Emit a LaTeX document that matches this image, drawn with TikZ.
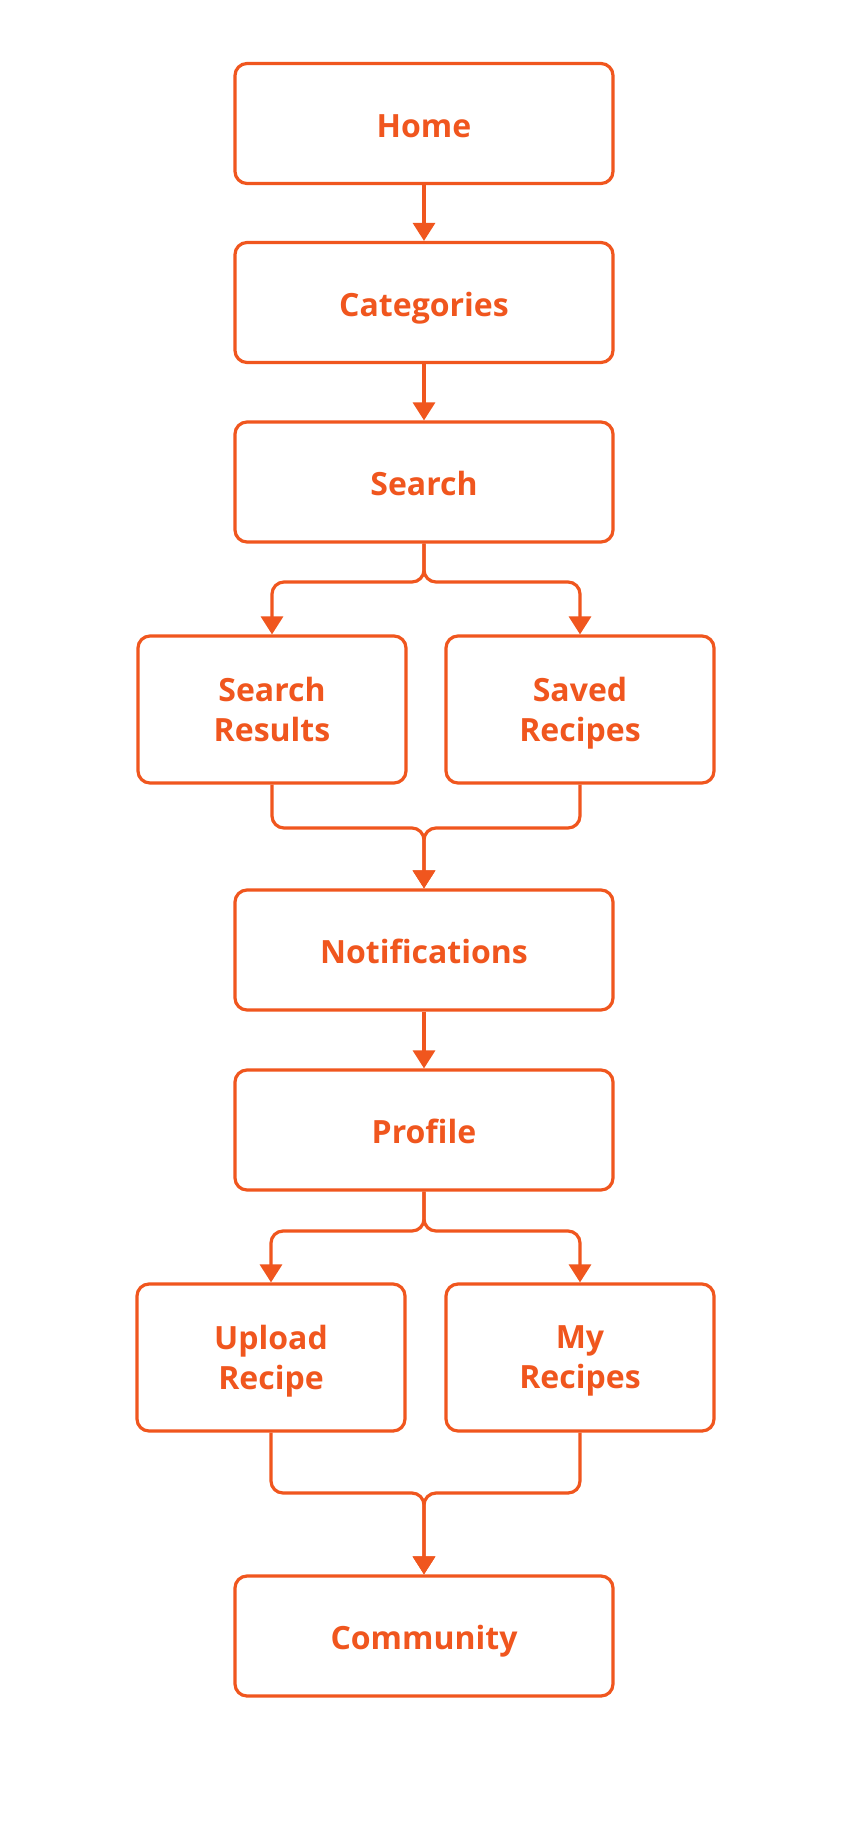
\documentclass[tikz,border=0pt]{standalone}
\usepackage{fontspec}
\setmainfont{Open Sans}
\usetikzlibrary{arrows.meta}
\definecolor{flow}{RGB}{240,86,30}
\begin{document}
\begin{tikzpicture}[x=1pt,y=-1pt,
  wide/.style={draw=flow,line width=3.2pt,rounded corners=12pt,minimum width=378pt,minimum height=120pt,text=flow,font=\fontsize{32}{40}\selectfont\bfseries,align=center,inner sep=0pt,text height=27pt,text depth=0pt},
  small/.style={draw=flow,line width=3.2pt,rounded corners=12pt,minimum width=268pt,minimum height=147pt,text=flow,font=\fontsize{32}{40}\selectfont\bfseries,align=center,inner sep=0pt},
  conn/.style={draw=flow,line width=3.2pt,rounded corners=12pt,-{Triangle[width=22pt,length=18pt]}}]
\fill[white] (0,0) rectangle (862,1824);
\useasboundingbox (0,0) rectangle (862,1824);
\node[wide] (home) at (424,123.5) {Home};
\node[wide] (cat) at (424,302.5) {Categories};
\node[wide] (search) at (424,482) {Search};
\node[small] (res) at (272,709.5) {Search\\Results};
\node[small] (saved) at (580,709.5) {Saved\\\smash{Recipes}};
\node[wide] (notif) at (424,950) {Notifications};
\node[wide] (prof) at (424,1130) {Profile};
\node[small] (up) at (271,1357.5) {Upload\\\smash{Recipe}};
\node[small] (my) at (580,1357.5) {My\\\smash{Recipes}};
\node[wide] (comm) at (424,1636) {Community};
\coordinate (s1) at (424,582);
\coordinate (m1) at (424,828);
\coordinate (s2) at (424,1231);
\coordinate (m2) at (424,1493);
\draw[conn] (home) -- (cat);
\draw[conn] (cat) -- (search);
\draw[conn] (search.south) -- (s1) -| (res.north);
\draw[conn] (search.south) -- (s1) -| (saved.north);
\draw[conn] (res.south) |- (m1) -- (notif.north);
\draw[conn] (saved.south) |- (m1) -- (notif.north);
\draw[conn] (notif) -- (prof);
\draw[conn] (prof.south) -- (s2) -| (up.north);
\draw[conn] (prof.south) -- (s2) -| (my.north);
\draw[conn] (up.south) |- (m2) -- (comm.north);
\draw[conn] (my.south) |- (m2) -- (comm.north);
\end{tikzpicture}
\end{document}
